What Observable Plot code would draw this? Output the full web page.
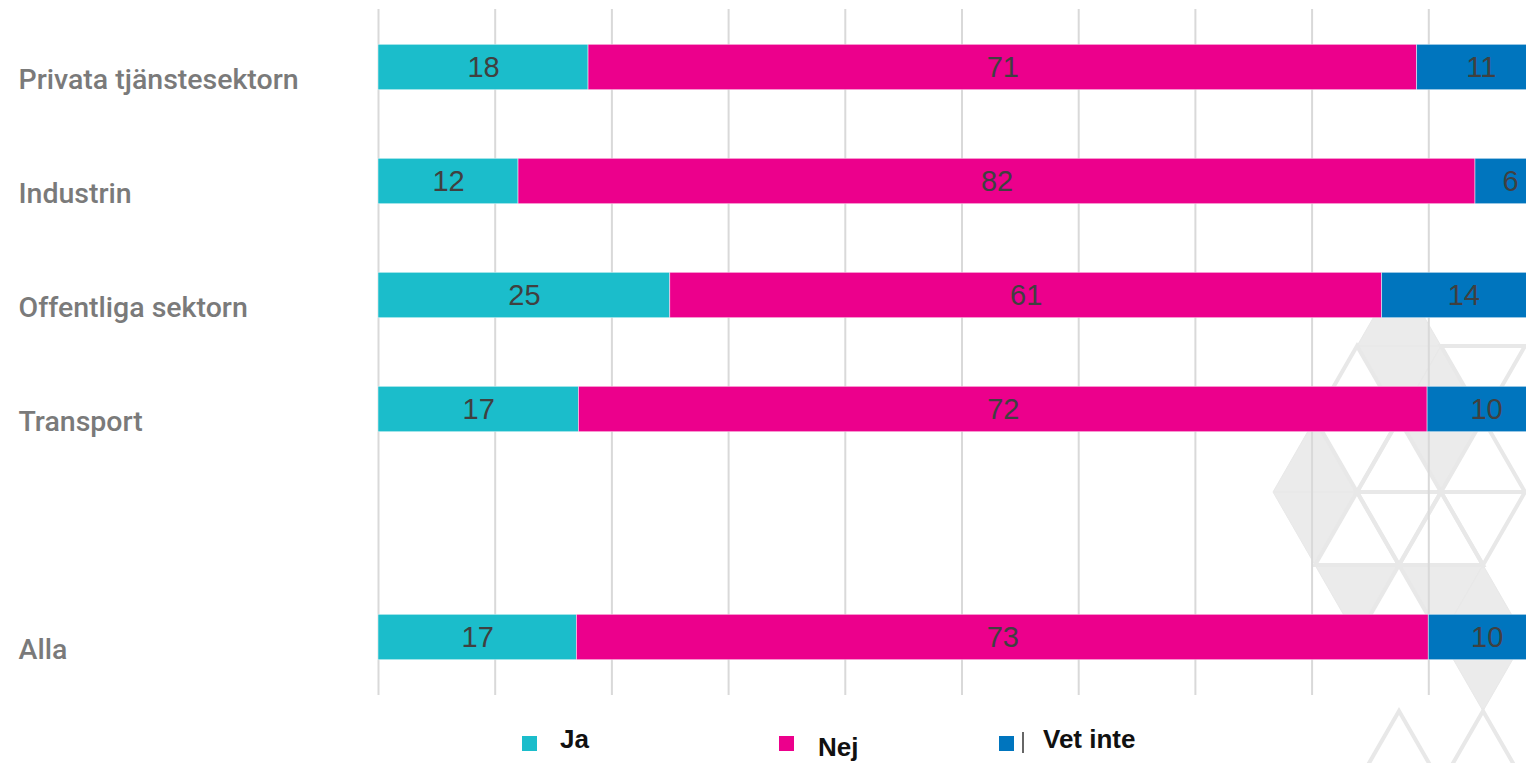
<!DOCTYPE html>
<html>
<head>
<meta charset="utf-8">
<script src="https://cdn.jsdelivr.net/npm/d3@7"></script>
<script src="https://cdn.jsdelivr.net/npm/@observablehq/plot@0.6"></script>
<style>
  html, body { margin: 0; padding: 0; background: #fff; overflow: hidden; }
  #wrap { position: relative; width: 1526px; height: 763px; overflow: hidden; }
  #bg { position: absolute; left: 0; top: 0; }
  #chart { position: absolute; left: 0; top: 0; }
  #legend { position: absolute; left: 0; top: 705px; width: 1526px; height: 58px; font-family: "Liberation Sans", Arial, sans-serif; }
  .sw { position: absolute; width: 15px; height: 15px; }
  .lt { position: absolute; font-weight: bold; font-size: 26px; color: #111; line-height: 1; white-space: nowrap; }
</style>
</head>
<body>
<div id="wrap">
  <svg id="bg" width="1526" height="763"></svg>
  <div id="chart"></div>
  <div id="legend"></div>
</div>
<script>
// ---- data ----
const categories = ["Privata tjänstesektorn", "Industrin", "Offentliga sektorn", "Transport", "", "Alla"];
const barCategories = ["Privata tjänstesektorn", "Industrin", "Offentliga sektorn", "Transport", "Alla"];
const ja = [18, 12, 25, 17, 17];
const nej = [71, 82, 61, 72, 73];
const vetInte = [11, 6, 14, 10, 10];
const responses = ["Ja", "Nej", "Vet inte"];
const colors = ["#1bbdcb", "#ec008c", "#0075be"];
const xTicks = [0, 0.1, 0.2, 0.3, 0.4, 0.5, 0.6, 0.7, 0.8, 0.9];

const series = [ja, nej, vetInte];
const data = barCategories.flatMap((cat, i) =>
  responses.map((resp, k) => ({cat, resp, value: series[k][i]})));

// ---- decorative background lattice: [row, half-step column, direction, style] ----
const decoTriangles = [
  [-3, 1, "up", "fill"], [-2, 0, "down", "fill"], [-2, 2, "up", "fill"],
  [-1, -1, "up", "fill"], [-1, 1, "down", "fill"], [0, -2, "down", "fill"],
  [1, -1, "down", "fill"], [1, 1, "down", "fill"], [1, 3, "up", "fill"],
  [2, 2, "down", "fill"],
  [-2, 0, "up", "line"], [-2, 2, "down", "line"], [-1, -1, "down", "line"],
  [-1, 1, "up", "line"], [-1, 3, "up", "line"], [0, 0, "up", "line"],
  [0, 0, "down", "line"], [0, 2, "up", "line"], [0, 2, "down", "line"],
  [1, 1, "up", "line"], [3, 1, "up", "line"], [3, 3, "up", "line"]
];
(function drawDeco() {
  const S = 84, H = 73, X0 = 1357, Y0 = 492;
  const px = k => X0 + (S / 2) * k;
  const py = r => Y0 + H * r;
  const pts = ([r, k, dir]) => {
    const x = px(k);
    return dir === "up"
      ? [[x, py(r)], [x - S / 2, py(r + 1)], [x + S / 2, py(r + 1)]]
      : [[x, py(r)], [x + S, py(r)], [x + S / 2, py(r + 1)]];
  };
  const svg = d3.select("#bg");
  const sorted = decoTriangles.filter(t => t[3] === "fill").concat(decoTriangles.filter(t => t[3] === "line"));
  svg.selectAll("polygon").data(sorted).join("polygon")
    .attr("points", t => pts(t).map(p => p.join(",")).join(" "))
    .attr("fill", t => t[3] === "fill" ? "#ebebeb" : "none")
    .attr("stroke", "#e8e8e8")
    .attr("stroke-width", t => t[3] === "fill" ? 1 : 4)
    .attr("stroke-linejoin", "miter");
})();

// ---- chart ----
const chart = Plot.plot({
  width: 1526,
  height: 705,
  marginLeft: 378,
  marginRight: 0,
  marginTop: 9,
  marginBottom: 10,
  style: {background: "transparent", overflow: "hidden", fontFamily: "'Liberation Sans', Arial, sans-serif"},
  x: {domain: [0, 1], range: [378, 1545], axis: null},
  y: {domain: categories, range: [9, 695], padding: 0},
  color: {domain: responses, range: colors},
  marks: [
    Plot.ruleX(xTicks, {x: d => d, stroke: "#d9d9d9", strokeWidth: 2}),
    Plot.barX(data, Plot.stackX({
      x: "value", y: "cat", fill: "resp", offset: "normalize",
      insetTop: 34.3, insetBottom: 34.3,
      stroke: "white", strokeWidth: 0.8, strokeOpacity: 0.6
    })),
    Plot.text(data, Plot.stackX({
      x: "value", y: "cat", z: "resp", offset: "normalize", text: d => String(d.value),
      fill: "#404040", fontSize: 29
    })),
    Plot.axisY({
      tickSize: 0, tickPadding: 0, textAnchor: "start", dx: -360, dy: 12,
      fontSize: 28.5, fontWeight: 500, color: "#7a7a7a", fontFamily: "Roboto, sans-serif", label: null
    })
  ]
});
document.getElementById("chart").appendChild(chart);

// ---- legend (HTML, below the SVG) ----
const legend = document.getElementById("legend");
const legendItems = [
  {sw: [522, 736], text: [560, 747]},
  {sw: [779, 736], text: [818, 755]},
  {sw: [999, 736], text: [1043, 747]}
];
responses.forEach((r, i) => {
  const it = legendItems[i];
  const s = document.createElement("div");
  s.className = "sw";
  s.style.left = it.sw[0] + "px";
  s.style.top = (it.sw[1] - 705) + "px";
  s.style.background = colors[i];
  legend.appendChild(s);
  const t = document.createElement("div");
  t.className = "lt";
  t.textContent = r;
  t.style.left = it.text[0] + "px";
  t.style.top = (it.text[1] - 705 - 21) + "px";
  legend.appendChild(t);
});
const bar = document.createElement("div");
bar.style.cssText = "position:absolute;left:1022px;top:" + (732 - 705) + "px;width:2px;height:21px;background:#666;";
legend.appendChild(bar);
</script>
</body>
</html>
